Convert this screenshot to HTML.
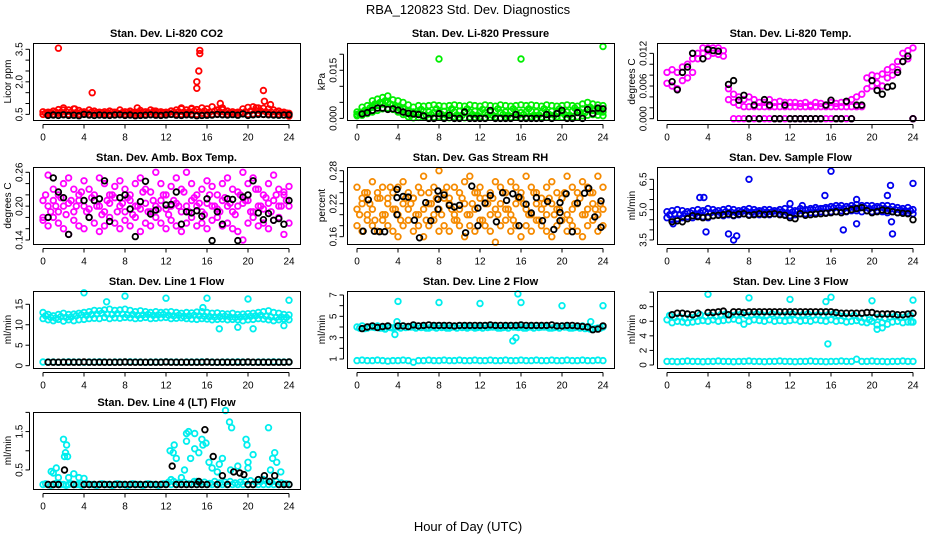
<!DOCTYPE html>
<html><head><meta charset="utf-8"><title>RBA_120823 Std. Dev. Diagnostics</title>
<style>
html,body{margin:0;padding:0;background:#fff;}
svg{display:block;font-family:"Liberation Sans",sans-serif;}
</style></head>
<body>
<svg id="chart" width="936" height="540" viewBox="0 0 936 540" xmlns="http://www.w3.org/2000/svg">
<rect x="0" y="0" width="936" height="540" fill="#fff"/>
<text x="468" y="14" font-size="13" text-anchor="middle">RBA_120823  Std. Dev. Diagnostics</text>
<text x="468" y="531" font-size="13" text-anchor="middle">Hour of Day (UTC)</text>
</svg>
<script>
const hours=[0,0.5,1,1.5,2,2.5,3,3.5,4,4.5,5,5.5,6,6.5,7,7.5,8,8.5,9,9.5,10,10.5,11,11.5,12,12.5,13,13.5,14,14.5,15,15.5,16,16.5,17,17.5,18,18.5,19,19.5,20,20.5,21,21.5,22,22.5,23,23.5,24];
const hoursB=[0.25,0.75,1.25,1.75,2.25,2.75,3.25,3.75,4.25,4.75,5.25,5.75,6.25,6.75,7.25,7.75,8.25,8.75,9.25,9.75,10.25,10.75,11.25,11.75,12.25,12.75,13.25,13.75,14.25,14.75,15.25,15.75,16.25,16.75,17.25,17.75,18.25,18.75,19.25,19.75,20.25,20.75,21.25,21.75,22.25,22.75,23.25,23.75];
const xTicks=[0,4,8,12,16,20,24];

// Panel 1 CO2
const co2Upper=[0.62,0.6,0.65,0.72,0.8,0.7,0.75,0.68,0.62,0.7,0.65,0.6,0.62,0.65,0.6,0.7,0.62,0.65,0.6,0.68,0.62,0.7,0.65,0.62,0.6,0.66,0.7,0.75,0.7,0.78,0.72,0.8,0.75,0.85,0.7,0.72,0.65,0.62,0.6,0.75,0.82,0.85,0.8,0.78,0.75,0.7,0.65,0.6,0.55];
const co2Lower=[0.5,0.52,0.5,0.55,0.52,0.5,0.55,0.5,0.52,0.5,0.55,0.5,0.52,0.5,0.5,0.52,0.5,0.55,0.5,0.52,0.5,0.5,0.52,0.5,0.55,0.5,0.52,0.5,0.55,0.52,0.5,0.55,0.52,0.5,0.52,0.5,0.5,0.52,0.5,0.55,0.5,0.52,0.55,0.5,0.52,0.5,0.5,0.48,0.42];
const co2Mid=[0.56,0.58,0.6,0.6,0.62,0.6,0.58,0.6,0.57,0.6,0.58,0.57,0.58,0.6,0.56,0.58,0.6,0.58,0.56,0.6,0.58,0.57,0.6,0.58,0.57,0.6,0.62,0.6,0.62,0.65,0.62,0.65,0.6,0.65,0.62,0.6,0.58,0.57,0.58,0.62,0.65,0.68,0.65,0.62,0.6,0.6,0.58,0.56];
const co2OutX=[1.5,4.8,9.2,10.8,13.5,14.5,15,15,15.2,15.3,15.3,17.3,17.5,21.5,21.6,22.2,20.8,3.1,2.0];
const co2OutY=[3.55,1.5,0.8,0.65,0.8,0.75,2.0,1.7,2.5,3.3,3.45,1.0,0.8,1.6,1.1,0.95,0.8,0.75,0.7];
const co2Black=[null,0.45,0.47,0.45,0.48,0.45,0.46,0.44,0.5,0.47,0.45,0.47,0.46,0.45,0.47,0.48,0.45,0.47,0.44,0.45,0.46,0.48,0.46,0.45,0.47,0.5,0.46,0.45,0.48,0.47,0.44,0.45,0.46,0.47,0.5,0.48,0.47,0.49,0.46,0.52,0.45,0.48,0.5,0.5,0.48,0.47,0.46,0.47,0.48];

// Panel 2 Pressure
const presHi=[0.002,0.0035,0.004,0.0055,0.006,0.0065,0.007,0.0058,0.0055,0.005,0.0042,0.0035,0.004,0.0038,0.004,0.0042,0.004,0.0038,0.004,0.0042,0.004,0.0038,0.0042,0.004,0.0038,0.0042,0.004,0.0038,0.0042,0.004,0.0038,0.004,0.0042,0.004,0.0042,0.004,0.0038,0.0042,0.004,0.0038,0.004,0.0042,0.004,0.0038,0.0045,0.005,0.0045,0.0042,0.004];
const presMid=[0.0012,0.0018,0.0025,0.0035,0.004,0.0045,0.005,0.0042,0.0035,0.003,0.0022,0.002,0.0018,0.0022,0.002,0.0018,0.002,0.0022,0.0018,0.002,0.0022,0.0018,0.002,0.0022,0.002,0.0018,0.002,0.0022,0.0018,0.002,0.0022,0.002,0.0018,0.002,0.0022,0.002,0.0018,0.002,0.0022,0.002,0.0018,0.002,0.0022,0.0025,0.003,0.0028,0.0025,0.0022,0.002];
const presLo=[0.0008,0.001,0.0015,0.002,0.0025,0.003,0.0032,0.0028,0.002,0.0012,0.0005,0.0002,0.0003,0.0005,0.0002,0.0004,0.0006,0.0003,0.0002,0.0005,0.0003,0.0002,0.0004,0.0003,0.0005,0.0002,0.0003,0.0004,0.0002,0.0005,0.0003,0.0004,0.0002,0.0003,0.0005,0.0002,0.0004,0.0003,0.0002,0.0005,0.0003,0.0002,0.0004,0.0005,0.0008,0.001,0.0012,0.001,0.0008];
const presB=[0.0015,0.0025,0.0032,0.0045,0.005,0.0055,0.0045,0.0035,0.0028,0.0015,0.001,0.0012,0.0028,0.001,0.0012,0.003,0.0012,0.001,0.003,0.0011,0.001,0.003,0.0012,0.001,0.0028,0.0011,0.001,0.003,0.0012,0.001,0.003,0.001,0.0012,0.003,0.001,0.0011,0.003,0.0012,0.001,0.003,0.0012,0.001,0.0032,0.002,0.0018,0.0035,0.003,0.0028];
const presOutX=[8,16,24];
const presOutY=[0.0185,0.0185,0.0224];
const presBlack=[null,0.0014,0.0018,0.0025,0.0032,0.0032,0.0028,0.003,0.0026,0.002,0.0016,0.0014,0.0012,0.0008,0.0,0.0,0.0015,0.0,0.001,0.0,0.0,0.002,0.0,0.0,0.0,0.0,0.0025,0.0,0.0,0.0,0.0,0.0012,0.0,0.0,0.0,0.0,0.0,0.0012,0.0,0.0015,0.0025,0.0,0.0,0.0018,0.0,0.0028,0.0015,0.0032,0.003];

// Panel 3 Temp
const tempHi=[0.0085,0.009,0.0085,0.0095,0.01,0.011,0.012,0.013,0.013,0.013,0.013,0.0125,0.0055,0.0045,0.004,0.0035,0.004,0.0035,0.003,0.003,0.0035,0.003,0.0032,0.003,0.003,0.003,0.0028,0.003,0.0025,0.003,0.0028,0.0025,0.003,0.0028,0.003,0.003,0.0035,0.004,0.0045,0.0075,0.008,0.0078,0.0082,0.009,0.0095,0.0105,0.012,0.0125,0.013];
const tempLo=[0.0065,0.006,0.0055,0.007,0.0075,0.0085,0.011,0.012,0.0115,0.012,0.0118,0.0115,0.0035,0.003,0.0025,0.0022,0.0022,0.0022,0.0022,0.0022,0.0022,0.0022,0.0022,0.0022,0.0022,0.0022,0.0022,0.0022,0.0022,0.0022,0.0022,0.0022,0.0022,0.0022,0.0022,0.0022,0.0022,0.0022,0.0022,0.0055,0.006,0.0065,0.006,0.0075,0.008,0.009,0.0105,0.011,0.0];
const tempZero=[null,null,null,null,null,null,null,null,null,null,null,null,null,0,0,0,0,0,0,0,0,0,0,0,0,0,0,0,0,0,0,0,0,0,0,0,0,null,null,null,null,null,null,null,null,null,null,null,0];
const tempBlack=[null,0.0068,0.0053,0.0085,0.0095,0.012,null,0.011,0.0127,0.0125,0.0124,null,0.0063,0.007,0.0034,0.0043,0.0,0.0025,0.0,0.0035,0.0025,0.0,0.0,0.0025,0.0,0.0,0.0,0.0,0.0,0.0,0.0,0.0025,0.0034,0.0,0.0,0.0032,0.0,0.0025,0.0025,null,0.007,0.0052,0.0045,0.0058,0.006,0.0085,0.0105,0.0115,0.0];

// Panel 4 Amb box temp
const ambA=[0.21,0.255,0.23,0.22,0.24,0.25,0.23,0.22,0.245,0.23,0.22,0.25,0.24,0.22,0.235,0.245,0.23,0.22,0.24,0.25,0.23,0.225,0.26,0.24,0.22,0.235,0.25,0.23,0.26,0.24,0.22,0.23,0.245,0.235,0.22,0.24,0.25,0.23,0.225,0.26,0.24,0.25,0.23,0.22,0.24,0.255,0.23,0.225,0.235];
const ambB=[0.18,0.2,0.21,0.19,0.2,0.205,0.19,0.21,0.2,0.195,0.21,0.2,0.19,0.205,0.215,0.2,0.19,0.21,0.2,0.195,0.205,0.19,0.2,0.21,0.195,0.2,0.205,0.19,0.2,0.21,0.2,0.19,0.205,0.2,0.195,0.21,0.2,0.19,0.2,0.205,0.21,0.19,0.2,0.195,0.205,0.21,0.2,0.22,0.2];
const ambC=[0.175,0.165,0.18,0.17,0.16,0.15,0.175,0.165,0.16,0.18,0.17,0.155,0.165,0.18,0.17,0.16,0.175,0.165,0.18,0.155,0.17,0.165,0.18,0.17,0.16,0.175,0.165,0.155,0.17,0.18,0.165,0.17,0.16,0.175,0.18,0.165,0.17,0.16,0.155,0.14,0.17,0.18,0.165,0.17,0.16,0.175,0.18,0.15,0.17];
const ambD=[0.22,0.19,0.2,0.215,0.185,0.21,0.2,0.225,0.19,0.215,0.2,0.185,0.21,0.22,0.19,0.205,0.215,0.185,0.2,0.225,0.19,0.21,0.195,0.22,0.185,0.21,0.2,0.225,0.19,0.215,0.205,0.185,0.22,0.2,0.19,0.215,0.205,0.185,0.22,0.21,0.19,0.23,0.2,0.215,0.19,0.22,0.2,0.21];
const ambBlack=[null,0.18,0.25,0.225,0.215,0.15,null,null,0.21,0.18,0.21,0.213,0.245,0.173,null,0.215,0.22,0.195,0.146,0.208,0.244,0.186,0.193,null,0.202,0.203,0.225,0.168,0.19,0.188,0.192,0.182,0.213,0.139,0.19,0.168,0.213,0.212,0.139,0.216,0.22,0.245,0.188,0.176,0.187,0.175,0.178,0.168,0.21];

// Panel 5 Gas stream RH
const rhA=[0.25,0.23,0.24,0.26,0.24,0.25,0.23,0.24,0.25,0.26,0.24,0.23,0.25,0.27,0.24,0.25,0.28,0.24,0.23,0.25,0.24,0.26,0.27,0.24,0.25,0.23,0.24,0.26,0.25,0.24,0.26,0.25,0.24,0.27,0.25,0.24,0.23,0.25,0.26,0.24,0.23,0.27,0.25,0.24,0.26,0.25,0.24,0.27,0.25];
const rhB=[0.21,0.22,0.2,0.21,0.23,0.2,0.22,0.21,0.2,0.22,0.21,0.23,0.2,0.21,0.22,0.2,0.21,0.23,0.22,0.2,0.21,0.22,0.2,0.21,0.23,0.22,0.2,0.21,0.22,0.21,0.2,0.22,0.23,0.21,0.2,0.22,0.21,0.2,0.22,0.21,0.23,0.2,0.21,0.22,0.2,0.21,0.22,0.2,0.21];
const rhC=[0.18,0.17,0.19,0.18,0.17,0.19,0.18,0.17,0.16,0.18,0.19,0.17,0.18,0.16,0.18,0.19,0.17,0.18,0.17,0.19,0.18,0.16,0.18,0.17,0.19,0.18,0.17,0.15,0.18,0.19,0.17,0.18,0.16,0.18,0.17,0.19,0.18,0.17,0.16,0.18,0.19,0.17,0.18,0.17,0.16,0.18,0.19,0.17,0.18];
const rhD=[0.2,0.24,0.22,0.19,0.23,0.2,0.25,0.21,0.19,0.23,0.22,0.2,0.24,0.19,0.22,0.23,0.2,0.25,0.21,0.19,0.23,0.2,0.22,0.24,0.19,0.22,0.23,0.2,0.24,0.21,0.19,0.23,0.22,0.2,0.24,0.19,0.22,0.23,0.2,0.21,0.24,0.19,0.22,0.23,0.2,0.24,0.21,0.22];
const rhBlackX=[0.6,1.1,1.7,2.2,2.7,3.9,3.9,3.9,4.5,5.0,5.6,6.1,6.7,7.2,7.9,7.9,7.9,8.5,9.0,9.5,10.0,10.6,11.2,11.8,11.8,12.5,13.0,13.6,14.2,14.6,15.2,15.8,15.8,16.5,17.0,17.5,18.1,18.6,19.2,19.8,19.8,19.8,20.4,21.0,21.5,22.2,22.6,23.2,23.8,23.8];
const rhBlackY=[0.17,0.227,0.17,0.169,0.169,0.246,0.231,0.2,0.233,0.232,0.19,0.158,0.222,0.189,0.21,0.228,0.243,0.236,0.217,0.214,0.217,0.167,0.252,0.18,0.212,0.221,0.235,0.187,0.24,0.226,0.238,0.232,0.18,0.219,0.203,0.231,0.189,0.224,0.173,0.222,0.204,0.189,0.238,0.169,0.221,0.239,0.248,0.196,0.225,0.177];

// Panel 6 Sample flow
const sfHi=[4.9,4.95,5.0,4.95,4.9,4.95,5.0,4.95,5.05,5.0,4.95,5.0,5.05,5.0,4.95,5.0,5.05,5.0,4.95,5.0,5.0,4.95,5.0,5.05,5.0,4.95,5.05,5.0,5.05,5.1,5.05,5.1,5.15,5.2,5.2,5.15,5.2,5.25,5.2,5.2,5.2,5.15,5.2,5.2,5.15,5.1,5.05,5.1,5.0];
const sfLo=[4.6,4.5,4.55,4.6,4.65,4.6,4.7,4.65,4.6,4.7,4.75,4.7,4.75,4.7,4.75,4.8,4.75,4.8,4.75,4.8,4.75,4.8,4.8,4.75,4.7,4.75,4.8,4.8,4.85,4.85,4.9,4.85,4.9,4.9,4.95,4.9,4.95,4.95,4.9,4.95,4.9,4.95,4.9,4.85,4.9,4.85,4.9,4.85,4.8];
const sfMid=[4.75,4.8,4.75,4.8,4.85,4.8,4.85,4.9,4.85,4.88,4.85,4.9,4.88,4.85,4.9,4.92,4.88,4.9,4.92,4.88,4.9,4.92,4.9,4.85,4.88,4.92,4.95,4.98,5.0,5.02,5.05,5.05,5.08,5.1,5.05,5.08,5.1,5.08,5.1,5.05,5.08,5.1,5.05,5.02,5.0,4.98,4.95,4.95];
const sfOutX=[0.6,3.2,3.6,3.8,6.0,6.5,6.8,8.0,12.0,13.2,15.4,16.0,17.2,18.5,18.5,21.5,21.8,22.0,24.0,21.9];
const sfOutY=[4.3,5.6,5.6,3.9,3.8,3.5,3.7,6.5,5.3,5.2,5.7,6.9,4.0,5.5,4.3,5.7,6.2,3.8,6.3,4.4];
const sfBlack=[null,4.4,4.45,4.4,4.55,4.7,4.65,4.6,4.65,4.7,4.72,4.75,4.8,4.72,4.78,4.8,4.72,4.75,4.8,4.75,4.78,4.8,4.75,4.72,4.6,4.55,4.8,4.72,4.75,4.78,4.8,4.82,4.85,4.9,4.85,4.92,5.0,5.05,5.1,4.95,4.85,4.9,4.98,4.95,4.9,4.85,4.82,4.8,4.5];

// Panel 7 Line 1 flow
const l1Hi=[13,12.5,12.2,12.5,12.8,12.5,12.6,12.8,13,13.2,13.5,13.4,13.6,13.8,13.5,13.6,13.8,13.5,13.2,13.4,13.2,13,13.2,13,13.1,13.2,13,12.8,13,12.9,13.1,13.2,13,12.8,12.9,12.7,12.6,12.8,12.5,12.6,12.7,12.8,13,13.2,13.4,13,12.8,12.5,12.4];
const l1Lo=[11.5,11.2,11,11.3,10.9,11.2,11,11.2,11.3,11.5,11.6,11.5,11.8,11.5,11.7,11.6,11.8,11.7,11.5,11.6,11.8,11.5,11.6,11.7,11.8,11.5,11.6,11.7,11.5,11.4,11.3,11.5,11.4,11.2,11.3,11.4,11.2,11.3,11.2,11,11.2,11.3,11.5,11.4,11.2,11,11.2,11.4,11.2];
const l1Mid=[12.2,11.8,11.6,12,11.8,11.9,12.2,12.4,12.3,12.5,12.6,12.8,12.6,12.5,12.7,12.6,12.4,12.5,12.3,12.4,12.5,12.3,12.4,12.5,12.3,12.2,12.3,12.1,12.2,12.3,12.2,12.1,12,11.9,12,12.1,11.9,11.8,11.9,12,12.1,12.2,12.3,12.1,11.9,11.8,11.9,11.8];
const l1Base=[0.9,0.9,0.9,0.85,0.9,0.95,0.9,0.9,0.85,0.9,0.9,0.95,0.9,0.85,0.9,0.9,0.9,0.95,0.9,0.9,0.85,0.9,0.9,0.9,0.95,0.9,0.9,0.85,0.9,0.9,0.9,0.95,0.9,0.9,0.85,0.9,0.9,0.9,0.95,0.9,0.9,0.85,0.9,0.9,0.9,0.95,0.9,0.9,0.9];
const l1OutX=[4,6.2,8,12,15.6,16,17.2,19,20,20.5,23.5,24];
const l1OutY=[17.8,15.6,17,16.5,14.2,16.5,9,9.4,16.3,9,9.8,16];
const l1Black=[null,0.85,0.85,0.85,0.85,0.85,0.85,0.85,0.9,0.85,0.85,0.85,0.85,0.85,0.85,0.85,0.9,0.85,0.85,0.85,0.85,0.85,0.85,0.85,0.9,0.85,0.85,0.85,0.85,0.85,0.85,0.85,0.9,0.85,0.85,0.85,0.85,0.85,0.85,0.85,0.9,0.85,0.85,0.85,0.85,0.85,0.85,0.85,0.9];

// Panel 8 Line 2 flow
const l2Band=[4.0,4.1,3.9,4.0,4.1,3.9,4.0,3.9,4.0,4.1,4.0,4.0,4.1,4.0,3.9,4.0,4.1,4.0,3.9,4.0,4.1,4.0,4.0,3.9,4.0,4.1,4.0,4.0,3.9,4.0,4.1,4.0,4.0,3.9,4.0,4.1,4.0,4.0,3.9,4.0,4.1,4.0,3.9,4.0,4.1,3.9,3.8,3.9,4.0];
const l2Band2=[3.9,3.85,4.0,3.95,3.9,3.8,3.95,4.0,3.9,3.95,4.0,3.9,3.95,3.9,4.0,3.9,3.95,3.9,4.0,3.9,3.95,3.9,4.0,3.95,3.9,3.95,4.0,3.9,3.95,3.9,4.0,3.95,3.9,4.0,3.9,3.95,4.0,3.9,3.95,3.9,4.0,3.9,3.95,3.9,3.85,3.8,3.85,3.9];
const l2Base=[0.85,0.9,0.85,0.85,0.9,0.85,0.8,0.85,0.85,0.9,0.85,0.7,0.85,0.85,0.9,0.85,0.85,0.9,0.85,0.85,0.9,0.85,0.85,0.9,0.85,0.85,0.9,0.85,0.85,0.9,0.85,0.85,0.9,0.85,0.85,0.9,0.85,0.85,0.9,0.85,0.85,0.9,0.85,0.85,0.9,0.85,0.85,0.9,0.85];
const l2OutX=[3.7,3.9,4,8,12,15.2,15.5,15.7,16,20,22.8,24];
const l2OutY=[3.3,4.5,6.4,6.3,6.2,2.7,3.0,7.1,6.3,6.0,4.5,6.0];
const l2Black=[null,3.85,4.0,4.1,3.95,4.05,4.1,null,4.1,4.1,4.05,4.2,4.1,4.15,4.2,4.15,4.15,4.15,4.15,4.1,4.15,4.15,4.15,4.15,4.15,4.15,4.2,4.15,4.15,4.15,4.15,4.15,4.2,4.15,4.15,4.15,4.15,4.15,4.2,4.1,4.1,4.15,4.15,4.1,4.05,4.0,3.75,3.8,4.1];

// Panel 9 Line 3 flow
const l3Band=[6.2,5.8,6.0,5.9,5.8,5.9,6.0,6.1,6.0,6.2,6.0,6.1,6.2,6.3,6.1,5.6,6.0,6.2,6.1,6.0,6.2,6.0,6.1,6.0,6.1,6.2,6.0,6.1,6.0,6.2,6.1,6.0,6.2,6.0,6.1,5.9,6.0,6.1,5.9,5.8,6.0,5.5,5.8,5.6,5.9,6.0,5.8,5.9,5.9];
const l3Band2=[6.8,6.5,6.6,6.4,6.5,6.6,6.9,6.7,6.8,6.7,6.9,7.0,6.8,6.9,7.0,6.8,6.9,7.0,6.9,6.8,7.0,6.9,6.8,6.9,7.0,6.8,6.9,7.0,6.8,6.9,6.8,6.9,7.0,6.8,6.7,6.6,6.8,6.5,6.4,6.2,6.5,6.6,6.4,6.6,6.7,6.5,6.6,6.8];
const l3Base=[0.5,0.5,0.45,0.5,0.55,0.5,0.5,0.45,0.5,0.5,0.55,0.5,0.5,0.45,0.5,0.5,0.55,0.5,0.5,0.45,0.5,0.5,0.55,0.5,0.5,0.45,0.5,0.5,0.55,0.5,0.5,0.45,0.5,0.5,0.55,0.5,0.5,0.8,0.5,0.5,0.55,0.5,0.5,0.45,0.5,0.5,0.55,0.5,0.5];
const l3OutX=[4,8,12,15.5,15.7,16,20,20.5,21,23.8,24];
const l3OutY=[9.7,9.2,9.0,8.7,2.9,9.3,8.8,4.9,5.1,5.9,8.9];
const l3Black=[null,6.9,7.1,7.1,7.0,6.9,7.1,null,7.2,7.2,7.3,7.4,6.9,7.3,7.3,7.2,7.3,7.3,7.3,7.3,7.3,7.3,7.3,7.3,7.3,7.3,7.3,7.3,7.3,7.3,7.3,7.3,7.3,7.2,7.1,7.1,7.1,7.1,7.1,7.2,7.2,7.0,7.0,7.0,7.0,6.9,6.9,7.0,7.1];

// Panel 10 Line 4 (LT) flow
const l4Base=[0.12,0.12,0.12,0.12,0.12,0.12,0.12,0.12,0.12,0.12,0.12,0.12,0.12,0.12,0.12,0.12,0.12,0.12,0.12,0.12,0.12,0.12,0.12,0.12,0.12,0.12,0.12,0.12,0.12,0.12,0.12,0.12,0.12,0.12,0.12,0.12,0.12,0.12,0.12,0.12,0.12,0.12,0.12,0.12,0.12,0.12,0.12,0.12,0.12];
const l4Base2=[0.14,0.1,0.15,0.12,0.1,0.14,0.12,0.1,0.14,0.12,0.1,0.14,0.12,0.1,0.14,0.12,0.1,0.14,0.12,0.1,0.14,0.12,0.1,0.14,0.18,0.2,0.16,0.18,0.14,0.2,0.16,0.18,0.15,0.2,0.16,0.18,0.2,0.16,0.18,0.2,0.22,0.18,0.2,0.22,0.18,0.2,0.16,0.14];
const l4ExtraX=[0.8,1.0,1.3,1.5,2.0,2.1,2.2,2.3,2.4,2.5,3.0,3.5,4.0,12.4,12.7,12.8,13.0,13.8,14.0,14.0,14.2,14.4,14.8,14.8,15.2,15.5,15.6,15.9,16.2,16.5,17.0,17.2,17.5,17.8,18.2,18.4,18.3,19.0,19.8,19.9,20.0,20.0,20.5,21.5,22.0,22.2,22.4,22.6,22.8,23.2,15.0,13.5,12.5];
const l4ExtraY=[0.46,0.42,0.55,0.3,1.3,0.85,0.95,1.15,0.85,0.3,0.4,0.3,0.28,1.0,0.95,1.15,0.8,0.5,1.45,1.25,1.5,0.8,1.45,1.05,0.95,1.3,1.15,1.2,0.7,0.55,0.45,0.65,0.8,2.05,1.75,1.6,0.5,0.6,1.3,1.15,0.7,0.55,0.9,0.25,1.6,0.5,0.8,0.95,0.7,0.45,0.2,0.3,0.25];
const l4Black=[null,0.12,0.12,0.12,null,null,0.12,null,0.12,0.12,0.12,0.12,0.12,0.12,0.12,0.12,0.12,0.12,0.12,0.12,0.12,0.12,0.12,0.12,0.12,null,0.12,0.12,0.12,0.12,0.12,0.12,0.12,null,0.12,null,0.12,null,null,null,0.12,0.12,null,null,null,null,0.12,0.12,0.12];
const l4BlackX=[2.1,12.6,15.8,16.6,17.5,18.6,19.2,19.6,21.0,21.6,22.1,22.6,15.2];
const l4BlackY=[0.5,0.6,1.55,0.85,0.35,0.45,0.42,0.38,0.25,0.35,0.2,0.35,0.2];

const NS='http://www.w3.org/2000/svg';
const svg=document.getElementById('chart');
const colLeft=[33,347,657], rowTop=[43,167,291,412], boxW=267, boxH=77;

function mk(tag,attrs,parent){const e=document.createElementNS(NS,tag);for(const k in attrs)e.setAttribute(k,attrs[k]);parent.appendChild(e);return e;}

function panel(key,col,row,title,ylab,ymin,ymax,yticks,ylabels,series){
  const L=colLeft[col],T=rowTop[row];
  const g=mk('g',{},svg);
  
  
  const xs=h=>L+10+h/24*(boxW-21);
  const ys=v=>T+boxH-(v-ymin)/(ymax-ymin)*boxH;
  const t=mk('text',{x:L+boxW/2,y:T-6,'font-size':11,'font-weight':'bold','text-anchor':'middle'},g);
  t.textContent=title;
  
  
  const pts=mk('g',{fill:'none','stroke-width':1.8},g);
  
  
  series.forEach(s=>{
    s.y.forEach((v,i)=>{
      if(v===null||v===undefined)return;
      const c=mk('circle',{cx:xs(s.x[i]).toFixed(1),cy:ys(v).toFixed(1),r:2.8,stroke:s.c},pts);
      
      
    });
  });
  const box=mk('rect',{x:L+0.5,y:T+0.5,width:boxW,height:boxH,fill:'none',stroke:'#000','stroke-width':1},g);
  
  
  const xa=mk('g',{},g);
  
  
  const B=T+boxH+0.5;
  mk('line',{x1:xs(0),y1:B+4,x2:xs(24),y2:B+4,stroke:'#000'},xa);
  xTicks.forEach(h=>{
    mk('line',{x1:xs(h),y1:B+4,x2:xs(h),y2:B+8,stroke:'#000'},xa);
    const tl=mk('text',{x:xs(h),y:B+20,'font-size':10,'text-anchor':'middle'},xa);
    tl.textContent=String(h);
    
    
  });
  const ya=mk('g',{},g);
  
  
  const AX=L-3.5;
  mk('line',{x1:AX,y1:ys(yticks[0]),x2:AX,y2:ys(yticks[yticks.length-1]),stroke:'#000'},ya);
  yticks.forEach((v,i)=>{
    mk('line',{x1:AX-4,y1:ys(v),x2:AX,y2:ys(v),stroke:'#000'},ya);
    if(ylabels[i]){
      const yl=mk('text',{x:0,y:0,'font-size':10,'text-anchor':'middle',transform:`translate(${AX-7},${ys(v)}) rotate(-90)`},ya);
      yl.textContent=ylabels[i];
      
      
    }
  });
  const yt=mk('text',{x:0,y:0,'font-size':10,'text-anchor':'middle',transform:`translate(${L-22},${T+boxH/2}) rotate(-90)`},g);
  yt.textContent=ylab;
  
  
}

const R='#ff0000',G='#00ee00',M='#ff00ff',K='#000000',O='#f58a00',Bl='#0000ee',C='#00eeee';
panel('co2',0,0,'Stan. Dev. Li-820 CO2','Licor ppm',0.24,3.79,[0.5,1,1.5,2,2.5,3,3.5],['0.5','','','2.0','','','3.5'],
 [{x:hours,y:co2Lower,c:R},{x:hours,y:co2Upper,c:R},{x:hoursB,y:co2Mid,c:R},{x:co2OutX,y:co2OutY,c:R},{x:hours,y:co2Black,c:K}]);
panel('pressure',1,0,'Stan. Dev. Li-820 Pressure','kPa',-0.0005,0.0235,[0,0.005,0.01,0.015,0.02],['0.000','','','0.015',''],
 [{x:hours,y:presLo,c:G},{x:hours,y:presMid,c:G},{x:hours,y:presHi,c:G},{x:hoursB,y:presB,c:G},{x:presOutX,y:presOutY,c:G},{x:hours,y:presBlack,c:K}]);
panel('temp',2,0,'Stan. Dev. Li-820 Temp.','degrees C',-0.00024,0.0139,[0,0.002,0.004,0.006,0.008,0.01,0.012],['0.000','','','0.006','','','0.012'],
 [{x:hours,y:tempLo,c:M},{x:hours,y:tempHi,c:M},{x:hours,y:tempZero,c:M},{x:hours,y:tempBlack,c:K}]);
panel('amb-temp',0,1,'Stan. Dev. Amb. Box Temp.','degrees C',0.1329,0.2694,[0.14,0.16,0.18,0.2,0.22,0.24,0.26],['0.14','','','0.20','','','0.26'],
 [{x:hours,y:ambA,c:M},{x:hours,y:ambB,c:M},{x:hours,y:ambC,c:M},{x:hoursB,y:ambD,c:M},{x:hours,y:ambBlack,c:K}]);
panel('rh',1,1,'Stan. Dev. Gas Stream RH','percent',0.1467,0.2867,[0.16,0.18,0.2,0.22,0.24,0.26,0.28],['0.16','','','0.22','','','0.28'],
 [{x:hours,y:rhA,c:O},{x:hours,y:rhB,c:O},{x:hours,y:rhC,c:O},{x:hoursB,y:rhD,c:O},{x:rhBlackX,y:rhBlackY,c:K}]);
panel('sample-flow',2,1,'Stan. Dev. Sample Flow','ml/min',3.3,7.11,[3.5,4,4.5,5,5.5,6,6.5],['3.5','','','5.0','','','6.5'],
 [{x:hours,y:sfLo,c:Bl},{x:hours,y:sfHi,c:Bl},{x:hoursB,y:sfMid,c:Bl},{x:sfOutX,y:sfOutY,c:Bl},{x:hours,y:sfBlack,c:K}]);
panel('line1',0,2,'Stan. Dev. Line 1 Flow','ml/min',-0.57,18.25,[0,5,10,15],['0','5','10','15'],
 [{x:hours,y:l1Lo,c:C},{x:hours,y:l1Hi,c:C},{x:hoursB,y:l1Mid,c:C},{x:hours,y:l1Base,c:C},{x:l1OutX,y:l1OutY,c:C},{x:hours,y:l1Black,c:K}]);
panel('line2',1,2,'Stan. Dev. Line 2 Flow','ml/min',0.156,7.375,[1,2,3,4,5,6,7],['1','','3','','5','','7'],
 [{x:hours,y:l2Band,c:C},{x:hoursB,y:l2Band2,c:C},{x:hours,y:l2Base,c:C},{x:l2OutX,y:l2OutY,c:C},{x:hours,y:l2Black,c:K}]);
panel('line3',2,2,'Stan. Dev. Line 3 Flow','ml/min',-0.41,10.15,[0,2,4,6,8,10],['0','2','4','6','8',''],
 [{x:hours,y:l3Band,c:C},{x:hoursB,y:l3Band2,c:C},{x:hours,y:l3Base,c:C},{x:l3OutX,y:l3OutY,c:C},{x:hours,y:l3Black,c:K}]);
panel('line4',0,3,'Stan. Dev. Line 4 (LT) Flow','ml/min',0.004,2.01,[0.5,1,1.5,2],['0.5','','1.5',''],
 [{x:hours,y:l4Base,c:C},{x:hoursB,y:l4Base2,c:C},{x:l4ExtraX,y:l4ExtraY,c:C},{x:hours,y:l4Black,c:K},{x:l4BlackX,y:l4BlackY,c:K}]);
</script>
</body></html>
